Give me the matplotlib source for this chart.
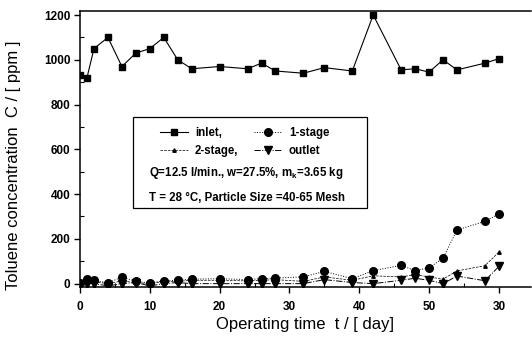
import matplotlib
matplotlib.use("Agg")
import matplotlib.pyplot as plt
from matplotlib.patches import Rectangle
from matplotlib.ticker import MultipleLocator

plt.rcParams['font.family'] = ['Liberation Sans', 'DejaVu Sans']
plt.rcParams['mathtext.fontset'] = 'custom'
plt.rcParams['mathtext.rm'] = 'Liberation Sans:bold'
plt.rcParams['mathtext.it'] = 'Liberation Sans:bold'

days = [0, 1, 2, 4, 6, 8, 10, 12, 14, 16, 20, 24, 26, 28, 32, 35, 39, 42, 46, 48, 50, 52, 54, 58, 60]
inlet = [930, 920, 1050, 1100, 970, 1030, 1050, 1100, 1000, 960, 970, 960, 985, 950, 940, 965, 950,
         1200, 955, 960, 945, 1000, 955, 985, 1005]
stage1 = [5, 20, 15, 3, 30, 10, 3, 12, 15, 20, 22, 18, 22, 25, 30, 55, 22, 58, 82, 58, 71, 113, 240, 278, 311]
stage2 = [3, 10, 8, 0, 12, 5, 0, 10, 10, 15, 15, 12, 15, 18, 10, 30, 15, 35, 30, 40, 30, 20, 57, 80, 141]
outlet = [0, 0, 0, -10, 0, 5, -10, 0, 5, 0, 0, 0, 0, 0, 0, 18, 5, 0, 15, 24, 15, 0, 34, 13, 77]

xticks = [0, 10, 20, 30, 40, 50, 60]
xticklabels = ['0', '10', '20', '30', '40', '50', '30']
yticks = [0, 200, 400, 600, 800, 1000, 1200]

fig = plt.figure(figsize=(5.32, 3.37), dpi=100)
ax = fig.add_axes([80/532, 1 - 287/337, 451/532, 276/337])

ax.plot(days, outlet, linestyle='-.', color='black', lw=0.7, marker='v', ms=5.5, label='outlet', zorder=3)
ax.plot(days, stage2, linestyle='--', color='black', lw=0.5, marker='^', ms=2.5, label='2-stage,', zorder=4)
ax.plot(days, stage1, linestyle=':', color='black', lw=0.7, marker='o', ms=5.5, label='1-stage', zorder=2)
ax.plot(days, inlet, linestyle='-', color='black', lw=0.8, marker='s', ms=5, label='inlet,', zorder=3)

ax.set_xlim(0, 64.6)
ax.set_ylim(-15, 1218)
ax.set_xticks(xticks)
ax.set_xticklabels(xticklabels)
ax.set_yticks(yticks)
ax.xaxis.set_minor_locator(MultipleLocator(5))
ax.yaxis.set_minor_locator(MultipleLocator(100))
ax.tick_params(axis='both', which='major', direction='out', length=4, width=1, labelsize=8.5, pad=3)
ax.tick_params(axis='x', which='major', pad=6)
ax.tick_params(axis='both', which='minor', direction='in', length=3, width=0.8)
for lab in ax.get_xticklabels() + ax.get_yticklabels():
    lab.set_fontweight('bold')

for s in ['left', 'bottom', 'top']:
    ax.spines[s].set_linewidth(1.1)
ax.spines['right'].set_visible(False)

ax.set_xlabel('Operating time  t / [ day]', fontsize=12)
ax.set_ylabel('Toluene concentration  C / [ ppm ]', fontsize=12)
ax.xaxis.set_label_coords(0.5, -0.11)
ax.yaxis.set_label_coords(-0.13, 0.44)

ax.add_patch(Rectangle((0.1175, 0.286), 0.519, 0.33, transform=ax.transAxes,
                       fill=False, lw=0.9, edgecolor='black', zorder=5))

h, l = ax.get_legend_handles_labels()
order = [3, 1, 2, 0]  # inlet, 2-stage, 1-stage, outlet (column-major)
leg = ax.legend([h[i] for i in order], [l[i] for i in order], ncol=2, frameon=False,
                loc='upper left', bbox_to_anchor=(0.16, 0.61),
                prop={'size': 8.3, 'weight': 'bold'}, handlelength=2.4,
                handletextpad=0.6, columnspacing=1.4, labelspacing=0.55, borderpad=0.2)

ax.text(0.152, 0.412, 'Q=12.5 l/min., w=27.5%, m$_{\\rm k}$=3.65 kg', transform=ax.transAxes,
        fontsize=8.3, fontweight='bold', va='center', ha='left')
ax.text(0.152, 0.322, 'T = 28 \u00b0C, Particle Size =40-65 Mesh', transform=ax.transAxes,
        fontsize=8.3, fontweight='bold', va='center', ha='left')

fig.savefig('out.png', dpi=100)
